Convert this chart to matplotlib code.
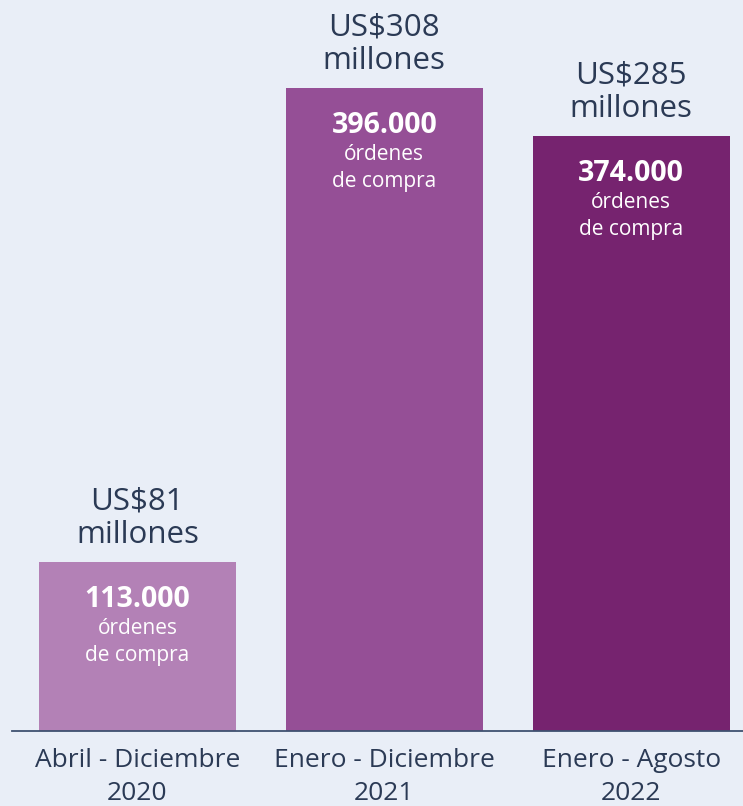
import matplotlib
matplotlib.use("Agg")
import matplotlib.pyplot as plt

periodos = ["Abril - Diciembre\n2020", "Enero - Diciembre\n2021", "Enero - Agosto\n2022"]
montos = [81, 308, 285]  # millones de US$
ordenes = ["113.000", "396.000", "374.000"]
colores = ["#b381b6", "#954f96", "#76236f"]

fondo = "#e9eef7"
texto = "#2b3a55"

plt.rcParams['font.family'] = ['Open Sans', 'DejaVu Sans']

fig = plt.figure(figsize=(7.43, 8.06), dpi=100, facecolor=fondo)
ax = fig.add_axes([12 / 743, 75 / 806, 731 / 743, 731 / 806])
ax.set_facecolor(fondo)

x = range(len(montos))
barras = ax.bar(x, montos, width=0.798, color=colores, zorder=2)

ax.set_xlim(-0.508, 2.453)
ax.set_ylim(0, 350)

for spine in ["top", "right", "left"]:
    ax.spines[spine].set_visible(False)
ax.spines["bottom"].set_color("#3f5170")
ax.spines["bottom"].set_linewidth(1.3)
ax.set_yticks([])
ax.set_xticks(list(x))
ax.set_xticklabels(periodos, fontsize=19, color=texto, linespacing=1.45)
ax.tick_params(axis="x", length=0, pad=12)

for i, b in enumerate(barras):
    cx = b.get_x() + b.get_width() / 2
    top = b.get_height()
    ax.annotate(f"US${montos[i]}\nmillones", (cx, top), xytext=(0, 12),
                textcoords="offset pixels", ha="center", va="bottom",
                fontsize=22.5, color=texto, linespacing=1.15)
    ax.annotate(ordenes[i], (cx, top), xytext=(0, -38),
                textcoords="offset pixels", ha="center", va="center",
                fontsize=20.5, fontweight="bold", color="white")
    ax.annotate("órdenes", (cx, top), xytext=(0, -67),
                textcoords="offset pixels", ha="center", va="center",
                fontsize=15, color="white")
    ax.annotate("de compra", (cx, top), xytext=(0, -94),
                textcoords="offset pixels", ha="center", va="center",
                fontsize=15, color="white")

fig.savefig("out.png", dpi=100, facecolor=fondo)
